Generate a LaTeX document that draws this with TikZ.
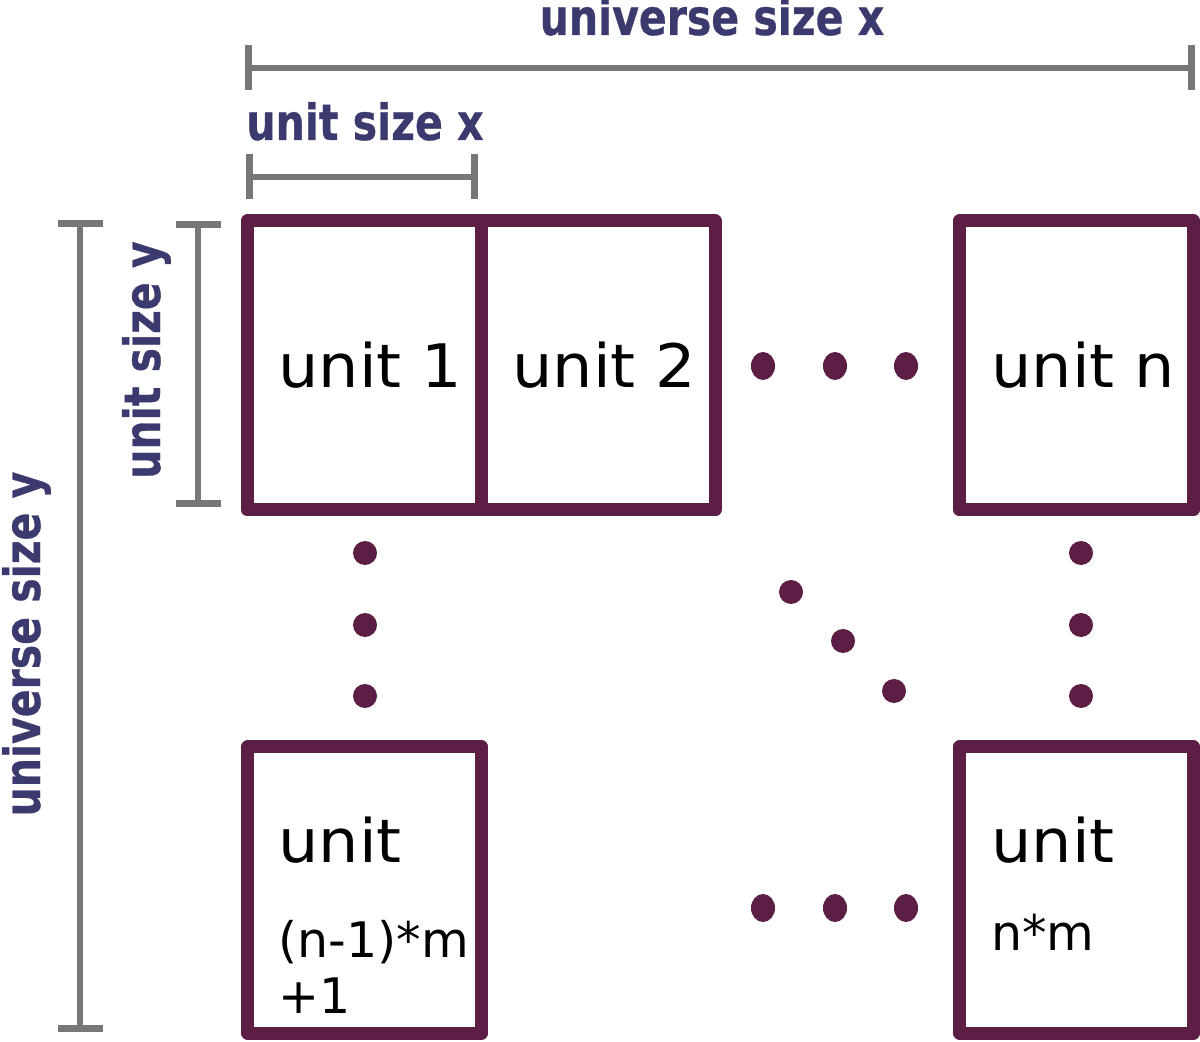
\documentclass[tikz,border=0pt]{standalone}
\usepackage{fontspec}
\setmainfont{DejaVu Sans}
\newfontfamily\boxfont[FakeStretch=1.06]{DejaVu Sans}
\newfontfamily\labfont[FakeStretch=0.82,FakeBold=0.6]{DejaVu Sans Bold}
\usetikzlibrary{arrows.meta,calc,shapes.geometric}
\definecolor{boxc}{HTML}{5C1E45}
\definecolor{labc}{HTML}{3B3A6E}
\definecolor{barc}{HTML}{777777}
\begin{document}
\begin{tikzpicture}[x=0.5pt,y=-0.5pt,
  unitbox/.style={draw=boxc,line width=6.5pt,line join=round,inner sep=0pt,minimum width=117pt},
  topbox/.style={unitbox,minimum height=144.5pt},
  botbox/.style={unitbox,minimum height=143pt},
  bigtxt/.style={anchor=base west,inner sep=0pt,font=\boxfont\fontsize{30}{36}\selectfont},
  smalltxt/.style={anchor=base west,inner sep=0pt,font=\fontsize{24.5}{30}\selectfont},
  labtxt/.style={anchor=base,inner sep=0pt,text=labc,font=\labfont\fontsize{25}{30}\selectfont},
  bracket/.style={draw=barc,line width=3.4pt,{Bar[width=22.5pt]}-{Bar[width=22.5pt]}},
  hdot/.style={fill=boxc,draw=none,ellipse,minimum width=12pt,minimum height=14pt,inner sep=0pt},
  cdot/.style={fill=boxc,draw=none,circle,minimum size=12pt,inner sep=0pt}
]
\useasboundingbox (0,0) rectangle (1200,1042);

% boxes
\node[topbox] (u1) at (364.25,365.5) {};
\node[topbox] (u2) at (598,365.5) {};
\node[topbox] (un) at (1076.5,365.5) {};
\node[botbox] (ul) at (364.75,890) {};
\node[botbox] (ur) at (1076.5,890) {};

% box texts
\node[bigtxt] (t1) at (278,388) {unit 1};
\node[bigtxt] (t2) at (512,388) {unit 2};
\node[bigtxt] (tn) at (991,388) {unit n};
\node[bigtxt] (tl) at (278,862) {unit};
\node[smalltxt] (tl2) at (278,957) {(n-1)*m};
\node[smalltxt] (tl3) at (278,1013) {+1};
\node[bigtxt] (tr) at (991,863) {unit};
\node[smalltxt] (tr2) at (991,950) {n*m};

% brackets
\coordinate (ux1) at (245,68);
\coordinate (ux2) at (1195,68);
\coordinate (sx1) at (246,177);
\coordinate (sx2) at (478,177);
\coordinate (sy1) at (198,221);
\coordinate (sy2) at (198,507);
\coordinate (uy1) at (80,220);
\coordinate (uy2) at (80,1032);
\draw[bracket] (ux1) -- (ux2);
\draw[bracket] (sx1) -- (sx2);
\draw[bracket] (sy1) -- (sy2);
\draw[bracket] (uy1) -- (uy2);

% labels
\node[labtxt] (lux) at (712,35) {universe size x};
\node[labtxt] (lsx) at (365,140) {unit size x};
\node[labtxt,rotate=90] (lsy) at (160,360) {unit size y};
\node[labtxt,rotate=90] (luy) at (40,644) {universe size y};

% dots
\node[hdot] (a1) at (763,366) {};
\node[hdot] (a2) at (835,366) {};
\node[hdot] (a3) at (906,366) {};
\node[cdot] (b1) at (365,553) {};
\node[cdot] (b2) at (365,625) {};
\node[cdot] (b3) at (365,696) {};
\node[cdot] (c1) at (1081,553) {};
\node[cdot] (c2) at (1081,625) {};
\node[cdot] (c3) at (1081,696) {};
\node[cdot] (d1) at (791,592) {};
\node[cdot] (d2) at (843,641) {};
\node[cdot] (d3) at (894,691) {};
\node[hdot] (e1) at (763,908) {};
\node[hdot] (e2) at (835,908) {};
\node[hdot] (e3) at (906,908) {};
\end{tikzpicture}
\end{document}
